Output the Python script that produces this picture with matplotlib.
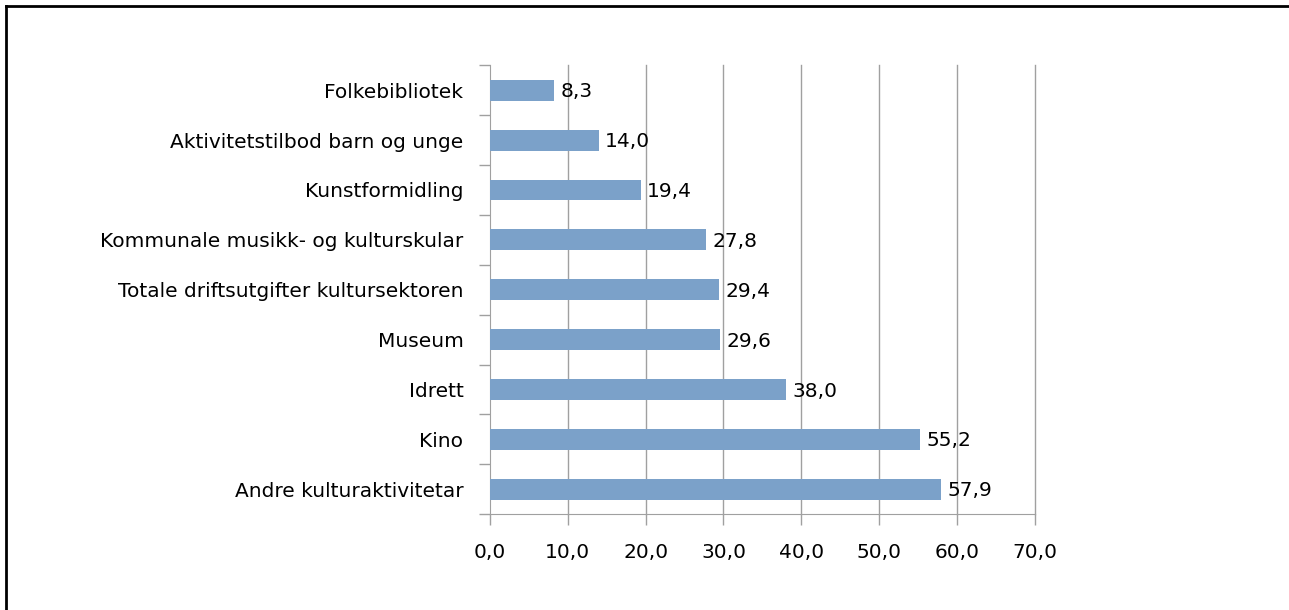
import matplotlib.pyplot as plt
from matplotlib.lines import Line2D

categories = [
    "Folkebibliotek",
    "Aktivitetstilbod barn og unge",
    "Kunstformidling",
    "Kommunale musikk- og kulturskular",
    "Totale driftsutgifter kultursektoren",
    "Museum",
    "Idrett",
    "Kino",
    "Andre kulturaktivitetar",
]
values = [8.3, 14.0, 19.4, 27.8, 29.4, 29.6, 38.0, 55.2, 57.9]
xticks = [0, 10, 20, 30, 40, 50, 60, 70]

plt.rcParams['font.family'] = ['DejaVu Sans']
fs = 14.5

fig = plt.figure(figsize=(12.89, 6.10), dpi=100)
ax = fig.add_axes([0.380, 0.157, 0.423, 0.736])

n = len(categories)
ypos = list(range(n))[::-1]
ax.barh(ypos, values, height=0.42, color="#7ba1c9", zorder=3)

for y, v in zip(ypos, values):
    ax.text(v + 0.8, y - 0.03, f"{v:.1f}".replace(".", ","), va="center", ha="left",
            fontsize=fs, zorder=4)

ax.set_xlim(0, 70)
ax.set_ylim(-0.5, n - 0.5)
ax.set_xticks(xticks)
ax.set_xticklabels([f"{t:.1f}".replace(".", ",") for t in xticks], fontsize=fs)
for t in xticks[1:]:
    ax.axvline(t, color="#a0a0a0", linewidth=1, zorder=0, clip_on=False)

# category labels, ticks between categories
ax.set_yticks(ypos)
ax.set_yticklabels(categories, fontsize=fs)
ax.tick_params(axis="y", which="major", length=0, pad=19)
ax.set_yticks([i - 0.5 for i in range(n + 1)], minor=True)
ax.tick_params(axis="y", which="minor", length=8, color="#a0a0a0", width=1)
ax.tick_params(axis="x", length=8, color="#a0a0a0", width=1, pad=13)

for s in ["top", "right"]:
    ax.spines[s].set_visible(False)
for s in ["left", "bottom"]:
    ax.spines[s].set_color("#a0a0a0")

# figure border (top and left edges visible)
fig.add_artist(Line2D([6 / 1289, 1.0], [1 - 6 / 610, 1 - 6 / 610], color="black", linewidth=2,
                      transform=fig.transFigure))
fig.add_artist(Line2D([6 / 1289, 6 / 1289], [0.0, 1 - 6 / 610], color="black", linewidth=2,
                      transform=fig.transFigure))

fig.savefig("out.png", dpi=100)
